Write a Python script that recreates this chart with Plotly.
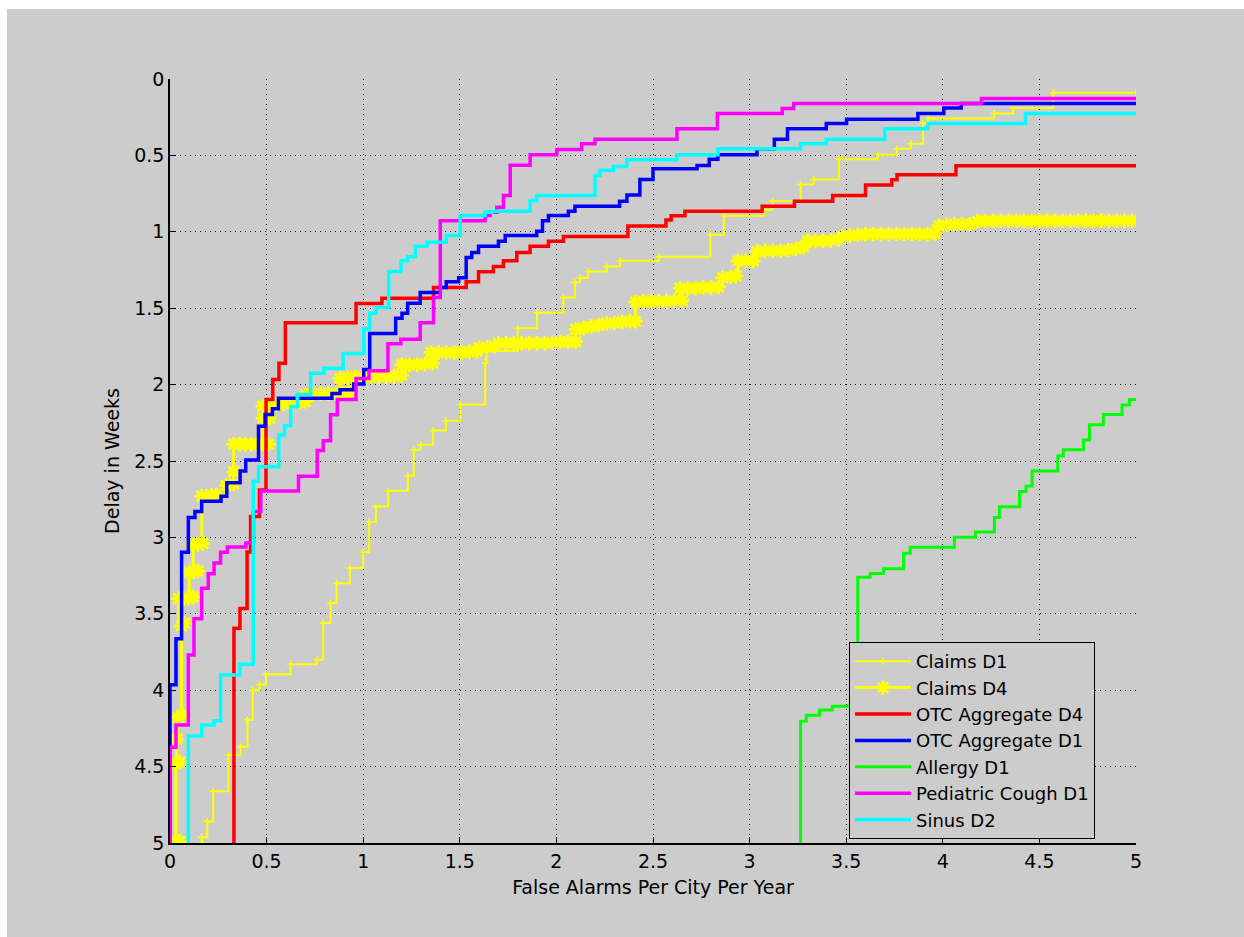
import plotly.graph_objects as go

# Detection delay (weeks) versus false-alarm rate for each surveillance series.
# Step curves: each point marks where the delay drops to a new level.

claims_d1_x = [0.164, 0.164, 0.193, 0.224, 0.302, 0.365, 0.401, 0.428, 0.463, 0.497, 0.624, 0.762,
               0.793, 0.831, 0.862, 0.931, 1.000, 1.031, 1.066, 1.129, 1.231, 1.262, 1.297, 1.362,
               1.428, 1.503, 1.632, 1.638, 1.800, 1.900, 2.036, 2.096, 2.122, 2.165, 2.261, 2.330,
               2.531, 2.797, 2.867, 3.074, 3.119, 3.264, 3.331, 3.462, 3.664, 3.763, 3.835, 3.897,
               3.924, 4.266, 4.365, 4.572, 5.000]
claims_d1_y = [5.000, 4.963, 4.859, 4.662, 4.422, 4.370, 4.193, 4.000, 3.963, 3.895, 3.830, 3.800,
               3.560, 3.430, 3.300, 3.200, 3.096, 2.900, 2.797, 2.695, 2.596, 2.426, 2.393, 2.301,
               2.236, 2.130, 1.857, 1.780, 1.632, 1.530, 1.430, 1.332, 1.300, 1.260, 1.227, 1.190,
               1.164, 1.020, 0.895, 0.857, 0.800, 0.691, 0.658, 0.526, 0.496, 0.456, 0.423, 0.287,
               0.259, 0.226, 0.189, 0.090, 0.090]

claims_d4_x = [0.015, 0.030, 0.050, 0.030, 0.050, 0.035, 0.040, 0.065, 0.060, 0.075,
               0.045, 0.070, 0.095, 0.120, 0.100, 0.125, 0.145, 0.120, 0.145, 0.170,
               0.165, 0.190, 0.215, 0.240, 0.290, 0.330, 0.330,
               0.330, 0.360, 0.390, 0.420, 0.450, 0.480, 0.510,
               0.480, 0.515,
               0.480, 0.510, 0.550, 0.590, 0.630, 0.670, 0.700,
               0.700, 0.740, 0.780, 0.820, 0.860, 0.900, 0.930,
               0.880, 0.920, 0.960, 1.000, 1.040, 1.080, 1.120, 1.160, 1.200,
               1.200, 1.240, 1.280, 1.320, 1.360,
               1.350, 1.390, 1.430, 1.470, 1.510, 1.550, 1.590,
               1.600, 1.640, 1.680,
               1.700, 1.740, 1.780, 1.820, 1.860, 1.900, 1.940, 1.980, 2.020, 2.060, 2.100,
               2.100, 2.140, 2.180, 2.220, 2.260, 2.300, 2.340, 2.380, 2.410,
               2.410, 2.450, 2.490, 2.530, 2.570, 2.610, 2.650,
               2.640, 2.680, 2.720, 2.760, 2.800, 2.840,
               2.860, 2.900, 2.930,
               2.940, 2.980, 3.020,
               3.040, 3.080, 3.120, 3.160, 3.200, 3.240, 3.280,
               3.300, 3.340, 3.380, 3.420, 3.460,
               3.480, 3.520, 3.560, 3.600, 3.640, 3.680, 3.720, 3.760, 3.800, 3.840, 3.880,
               3.920, 3.960,
               3.980, 4.020, 4.060, 4.100, 4.140,
               4.180, 4.220, 4.260, 4.300, 4.340, 4.380, 4.420, 4.460, 4.500, 4.540, 4.580,
               4.620, 4.660, 4.700, 4.740, 4.780, 4.820, 4.860, 4.900, 4.940, 4.980]
claims_d4_y = [5.000, 4.990, 4.990, 4.480, 4.470, 4.320, 4.180, 4.160, 3.580, 3.560,
               3.400, 3.400, 3.400, 3.390, 3.230, 3.225, 3.220, 3.050, 3.045, 3.040,
               2.730, 2.730, 2.725, 2.720, 2.660, 2.650, 2.570,
               2.390, 2.390, 2.390, 2.390, 2.390, 2.390, 2.390,
               2.220, 2.220,
               2.140, 2.135, 2.130, 2.125, 2.120, 2.115, 2.110,
               2.070, 2.065, 2.060, 2.060, 2.060, 2.055, 2.050,
               1.960, 1.955, 1.950, 1.950, 1.950, 1.950, 1.950, 1.945, 1.940,
               1.870, 1.870, 1.870, 1.865, 1.860,
               1.790, 1.790, 1.790, 1.790, 1.790, 1.785, 1.780,
               1.760, 1.755, 1.750,
               1.730, 1.730, 1.730, 1.730, 1.730, 1.730, 1.730, 1.725, 1.720, 1.720, 1.720,
               1.640, 1.630, 1.620, 1.610, 1.600, 1.595, 1.590, 1.585, 1.585,
               1.460, 1.455, 1.455, 1.455, 1.455, 1.450, 1.450,
               1.370, 1.370, 1.370, 1.365, 1.365, 1.360,
               1.300, 1.295, 1.290,
               1.190, 1.190, 1.190,
               1.130, 1.125, 1.125, 1.125, 1.120, 1.110, 1.100,
               1.060, 1.060, 1.060, 1.055, 1.050,
               1.030, 1.025, 1.020, 1.015, 1.015, 1.015, 1.015, 1.015, 1.015, 1.015, 1.015,
               1.015, 1.010,
               0.960, 0.955, 0.950, 0.950, 0.950,
               0.930, 0.928, 0.928, 0.928, 0.928, 0.928, 0.928, 0.928, 0.928, 0.928, 0.928,
               0.928, 0.928, 0.928, 0.928, 0.928, 0.928, 0.928, 0.928, 0.928, 0.928]

otc_d4_x = [0.331, 0.331, 0.362, 0.399, 0.417, 0.463, 0.497, 0.532, 0.564, 0.597, 0.963, 1.097,
            1.364, 1.533, 1.597, 1.674, 1.726, 1.795, 1.864, 1.959, 2.036, 2.370, 2.567, 2.594,
            2.665, 3.065, 3.232, 3.430, 3.600, 3.736, 3.763, 4.068, 5.000]
otc_d4_y = [5.000, 3.594, 3.465, 3.096, 2.864, 2.690, 2.097, 1.966, 1.860, 1.595, 1.470, 1.435,
            1.365, 1.327, 1.262, 1.227, 1.190, 1.135, 1.095, 1.062, 1.030, 0.962, 0.923, 0.895,
            0.866, 0.833, 0.800, 0.763, 0.693, 0.660, 0.627, 0.568, 0.568]

otc_d1_x = [0.000, 0.000, 0.031, 0.060, 0.095, 0.129, 0.164, 0.264, 0.294, 0.363, 0.392, 0.458,
            0.492, 0.530, 0.561, 0.838, 0.880, 0.951, 1.003, 1.034, 1.168, 1.201, 1.230, 1.295,
            1.399, 1.430, 1.494, 1.533, 1.562, 1.597, 1.700, 1.735, 1.898, 1.928, 1.959, 2.062,
            2.096, 2.327, 2.365, 2.432, 2.500, 2.728, 2.791, 2.836, 3.038, 3.128, 3.196, 3.397,
            3.502, 3.871, 4.005, 4.095, 5.000]
otc_d1_y = [5.000, 3.965, 3.664, 3.098, 2.869, 2.830, 2.764, 2.731, 2.643, 2.566, 2.494, 2.272,
            2.195, 2.158, 2.090, 2.058, 2.033, 1.996, 1.901, 1.665, 1.566, 1.533, 1.468, 1.398,
            1.365, 1.327, 1.300, 1.168, 1.135, 1.095, 1.062, 1.025, 0.997, 0.927, 0.894, 0.865,
            0.832, 0.800, 0.759, 0.658, 0.588, 0.566, 0.526, 0.496, 0.456, 0.395, 0.325, 0.292,
            0.263, 0.226, 0.189, 0.160, 0.160]

allergy_d1_x = [3.264, 3.264, 3.293, 3.362, 3.428, 3.560, 3.624, 3.693, 3.797, 3.831, 4.060, 4.169,
                4.267, 4.293, 4.397, 4.431, 4.462, 4.595, 4.624, 4.728, 4.759, 4.831, 4.928, 4.966,
                5.000]
allergy_d1_y = [5.000, 4.204, 4.164, 4.129, 4.105, 3.261, 3.237, 3.205, 3.104, 3.064, 2.999, 2.964,
                2.870, 2.800, 2.699, 2.664, 2.566, 2.465, 2.426, 2.363, 2.262, 2.196, 2.133, 2.098,
                2.098]

ped_cough_d1_x = [0.000, 0.000, 0.031, 0.095, 0.124, 0.164, 0.198, 0.228, 0.262, 0.297, 0.393, 0.432,
                  0.470, 0.665, 0.762, 0.793, 0.831, 0.866, 0.963, 1.030, 1.128, 1.195, 1.295, 1.364,
                  1.399, 1.631, 1.657, 1.692, 1.726, 1.761, 1.864, 2.002, 2.131, 2.200, 2.624, 2.833,
                  3.169, 3.228, 4.200, 5.000]
ped_cough_d1_y = [5.000, 4.374, 4.227, 3.769, 3.533, 3.332, 3.238, 3.168, 3.098, 3.063, 3.037, 2.830,
                  2.697, 2.600, 2.432, 2.367, 2.197, 2.098, 1.960, 1.910, 1.733, 1.704, 1.595, 1.430,
                  0.927, 0.894, 0.872, 0.839, 0.762, 0.565, 0.495, 0.462, 0.423, 0.394, 0.325, 0.226,
                  0.193, 0.160, 0.127, 0.127]

sinus_d2_x = [0.095, 0.095, 0.164, 0.228, 0.262, 0.362, 0.431, 0.458, 0.563, 0.593, 0.625, 0.659,
              0.728, 0.796, 0.896, 1.003, 1.034, 1.068, 1.132, 1.196, 1.230, 1.270, 1.330, 1.430,
              1.502, 1.631, 1.666, 1.864, 1.898, 2.200, 2.226, 2.295, 2.364, 2.624, 2.836, 3.264,
              3.397, 3.700, 3.924, 4.428, 5.000]
sinus_d2_y = [5.000, 4.300, 4.227, 4.200, 3.900, 3.830, 2.633, 2.538, 2.330, 2.270, 2.145, 2.064,
              1.925, 1.893, 1.796, 1.634, 1.533, 1.496, 1.260, 1.190, 1.163, 1.095, 1.069, 1.025,
              0.894, 0.872, 0.865, 0.795, 0.762, 0.631, 0.598, 0.572, 0.528, 0.496, 0.456, 0.423,
              0.395, 0.325, 0.292, 0.226, 0.226]

tick_vals = [0, 0.5, 1, 1.5, 2, 2.5, 3, 3.5, 4, 4.5, 5]
tick_text = ["0", "0.5", "1", "1.5", "2", "2.5", "3", "3.5", "4", "4.5", "5"]

FONT = "DejaVu Sans"
GRAY = "#cccccc"

fig = go.Figure()

fig.add_trace(go.Scatter(
    x=claims_d1_x, y=claims_d1_y, name="Claims D1", mode="lines+markers",
    line=dict(color="#ffff00", width=2, shape="hv"),
    marker=dict(symbol="cross-thin", size=5, color="#ffff00",
                line=dict(color="#ffff00", width=1.5))))
fig.add_trace(go.Scatter(
    x=claims_d4_x, y=claims_d4_y, name="Claims D4", mode="lines+markers",
    line=dict(color="#ffff00", width=3, shape="hv"),
    marker=dict(symbol="asterisk", size=12, color="#ffff00",
                line=dict(color="#ffff00", width=3))))
fig.add_trace(go.Scatter(
    x=otc_d4_x, y=otc_d4_y, name="OTC Aggregate D4", mode="lines",
    line=dict(color="#ff0000", width=3.5, shape="hv")))
fig.add_trace(go.Scatter(
    x=otc_d1_x, y=otc_d1_y, name="OTC Aggregate D1", mode="lines",
    line=dict(color="#0000ff", width=3.5, shape="hv")))
fig.add_trace(go.Scatter(
    x=allergy_d1_x, y=allergy_d1_y, name="Allergy D1", mode="lines",
    line=dict(color="#00ff00", width=3, shape="hv")))
fig.add_trace(go.Scatter(
    x=ped_cough_d1_x, y=ped_cough_d1_y, name="Pediatric Cough D1", mode="lines",
    line=dict(color="#ff00ff", width=3.5, shape="hv")))
fig.add_trace(go.Scatter(
    x=sinus_d2_x, y=sinus_d2_y, name="Sinus D2", mode="lines",
    line=dict(color="#00ffff", width=3.5, shape="hv")))

axis_common = dict(
    tickvals=tick_vals, ticktext=tick_text,
    showgrid=True, gridcolor="black", gridwidth=1, griddash="1px,4px",
    zeroline=False, showline=True, linecolor="black", linewidth=1.5,
    ticks="inside", ticklen=6, tickcolor="black", tickwidth=1,
    tickfont=dict(family=FONT, size=19, color="black"),
)

fig.update_xaxes(range=[0, 5],
                 title=dict(text="False Alarms Per City Per Year",
                            font=dict(family=FONT, size=19, color="black"), standoff=10),
                 **axis_common)
fig.update_yaxes(range=[5, 0],
                 title=dict(text="Delay in Weeks",
                            font=dict(family=FONT, size=19, color="black"), standoff=10),
                 **axis_common)

ml, mr, mt, mb = 170, 108, 79, 94
W, H = 1244, 937
pw, ph = W - ml - mr, H - mt - mb

# grey figure panel behind the axes (thin white edge on the left and top)
fig.add_shape(type="rect", xref="paper", yref="paper", layer="below",
              x0=(7 - ml) / pw, x1=(W + 4 - ml) / pw,
              y0=-(mb + 4) / ph, y1=1 + (mt - 9) / ph,
              fillcolor=GRAY, line=dict(width=0))

fig.update_layout(
    width=W, height=H,
    margin=dict(l=ml, r=mr, t=mt, b=mb, autoexpand=False),
    paper_bgcolor="white",
    plot_bgcolor="rgba(0,0,0,0)",
    font=dict(family=FONT, color="black"),
    showlegend=True,
    legend=dict(
        x=(849 - ml) / pw, y=(H - mb - 642) / ph, xanchor="left", yanchor="top",
        bgcolor=GRAY, bordercolor="black", borderwidth=1,
        font=dict(family=FONT, size=18, color="black"),
        itemwidth=56, traceorder="normal",
    ),
)

fig.write_html("out.html")
